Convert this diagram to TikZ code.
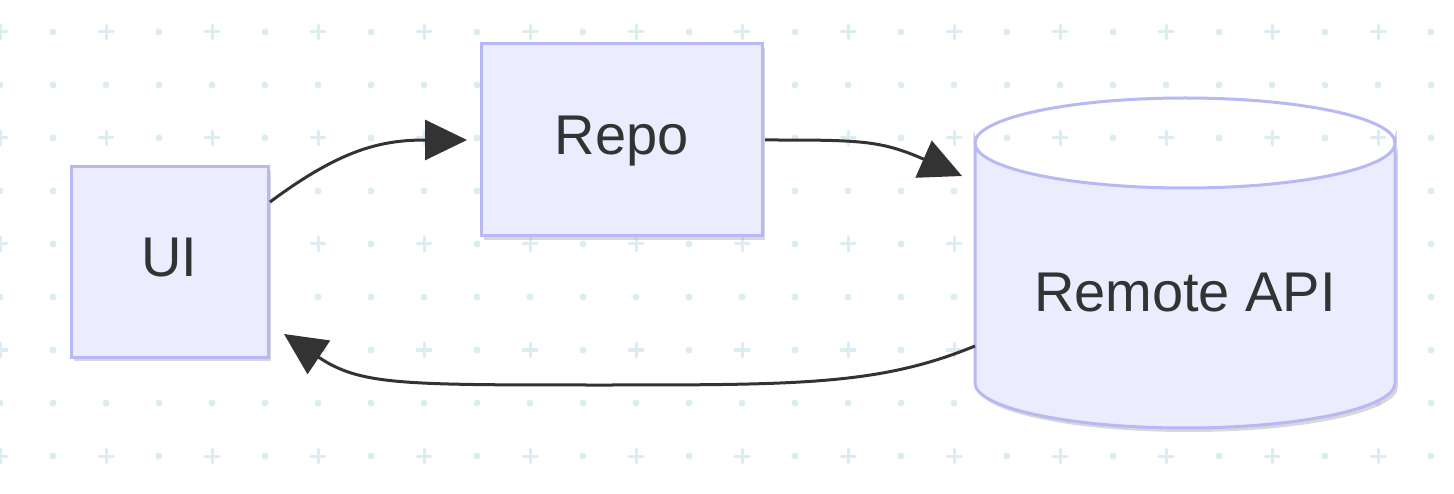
\documentclass[tikz,border=0pt]{standalone}
\usepackage{fontspec}
\setmainfont{Liberation Sans}
\usetikzlibrary{arrows.meta,shapes.geometric,shadows}
\definecolor{nfill}{HTML}{ECECFF}
\definecolor{nline}{HTML}{B8B8F5}
\definecolor{ink}{HTML}{333333}
\definecolor{grid}{HTML}{DCEDF2}
\begin{document}
\begin{tikzpicture}[x=1pt,y=-1pt,
  box/.style={draw=nline,line width=3pt,fill=nfill,font=\fontsize{56}{64}\selectfont,text=ink,
    drop shadow={shadow xshift=3pt,shadow yshift=-4pt,fill=black!30,opacity=.5}},
  lbl/.style={font=\fontsize{56}{64}\selectfont,text=ink},
  edge/.style={draw=ink,line width=3pt,-{Triangle[length=42pt,width=40pt]}}]
\useasboundingbox (0,0) rectangle (1454,494);
\foreach \i in {0,...,27}{\foreach \j in {0,...,8}{
  \pgfmathtruncatemacro\ev{mod(\i,2)+mod(\j,2)}
  \ifnum\ev=0
    \draw[grid,line width=3pt,line cap=round] (\i*53-7,32+\j*53)--(\i*53+7,32+\j*53) (\i*53,25+\j*53)--(\i*53,39+\j*53);
  \else
    \fill[grid] (\i*53,32+\j*53) circle (3.5pt);
  \fi}}
\node[box,minimum width=197pt,minimum height=190pt,text height=40pt,text depth=10pt,inner sep=0pt] (ui) at (169.5,262) {UI};
\node[box,minimum width=281pt,minimum height=192pt,text height=40pt,text depth=10pt,inner sep=0pt] (repo) at (621.5,140) {Repo};
\path[draw=nline,line width=3pt,fill=nfill,drop shadow={shadow xshift=3pt,shadow yshift=-4pt,fill=black!30,opacity=.5}]
  (975,143) arc[start angle=180,end angle=360,x radius=210,y radius=-45] -- (1395,383)
  arc[start angle=0,end angle=-180,x radius=210,y radius=-45] -- cycle;
\draw[nline,line width=3pt] (975,143) arc[start angle=180,end angle=0,x radius=210,y radius=-45];
\node[lbl] (api) at (1185,293) {Remote API};
\coordinate (a1) at (270,202);
\coordinate (a2) at (467,140);
\draw[edge] (a1) .. controls (340,150) and (380,140) .. (a2);
\coordinate (b1) at (765,140);
\coordinate (b2) at (962,176);
\draw[edge] (b1) .. controls (860,140) and (880,140) .. (b2);
\coordinate (c1) at (975,346);
\coordinate (c2) at (284,334);
\draw[edge] (c1) .. controls (880,385) and (800,385) .. (600,385) .. controls (400,385) and (360,385) .. (c2);
\end{tikzpicture}
\end{document}
